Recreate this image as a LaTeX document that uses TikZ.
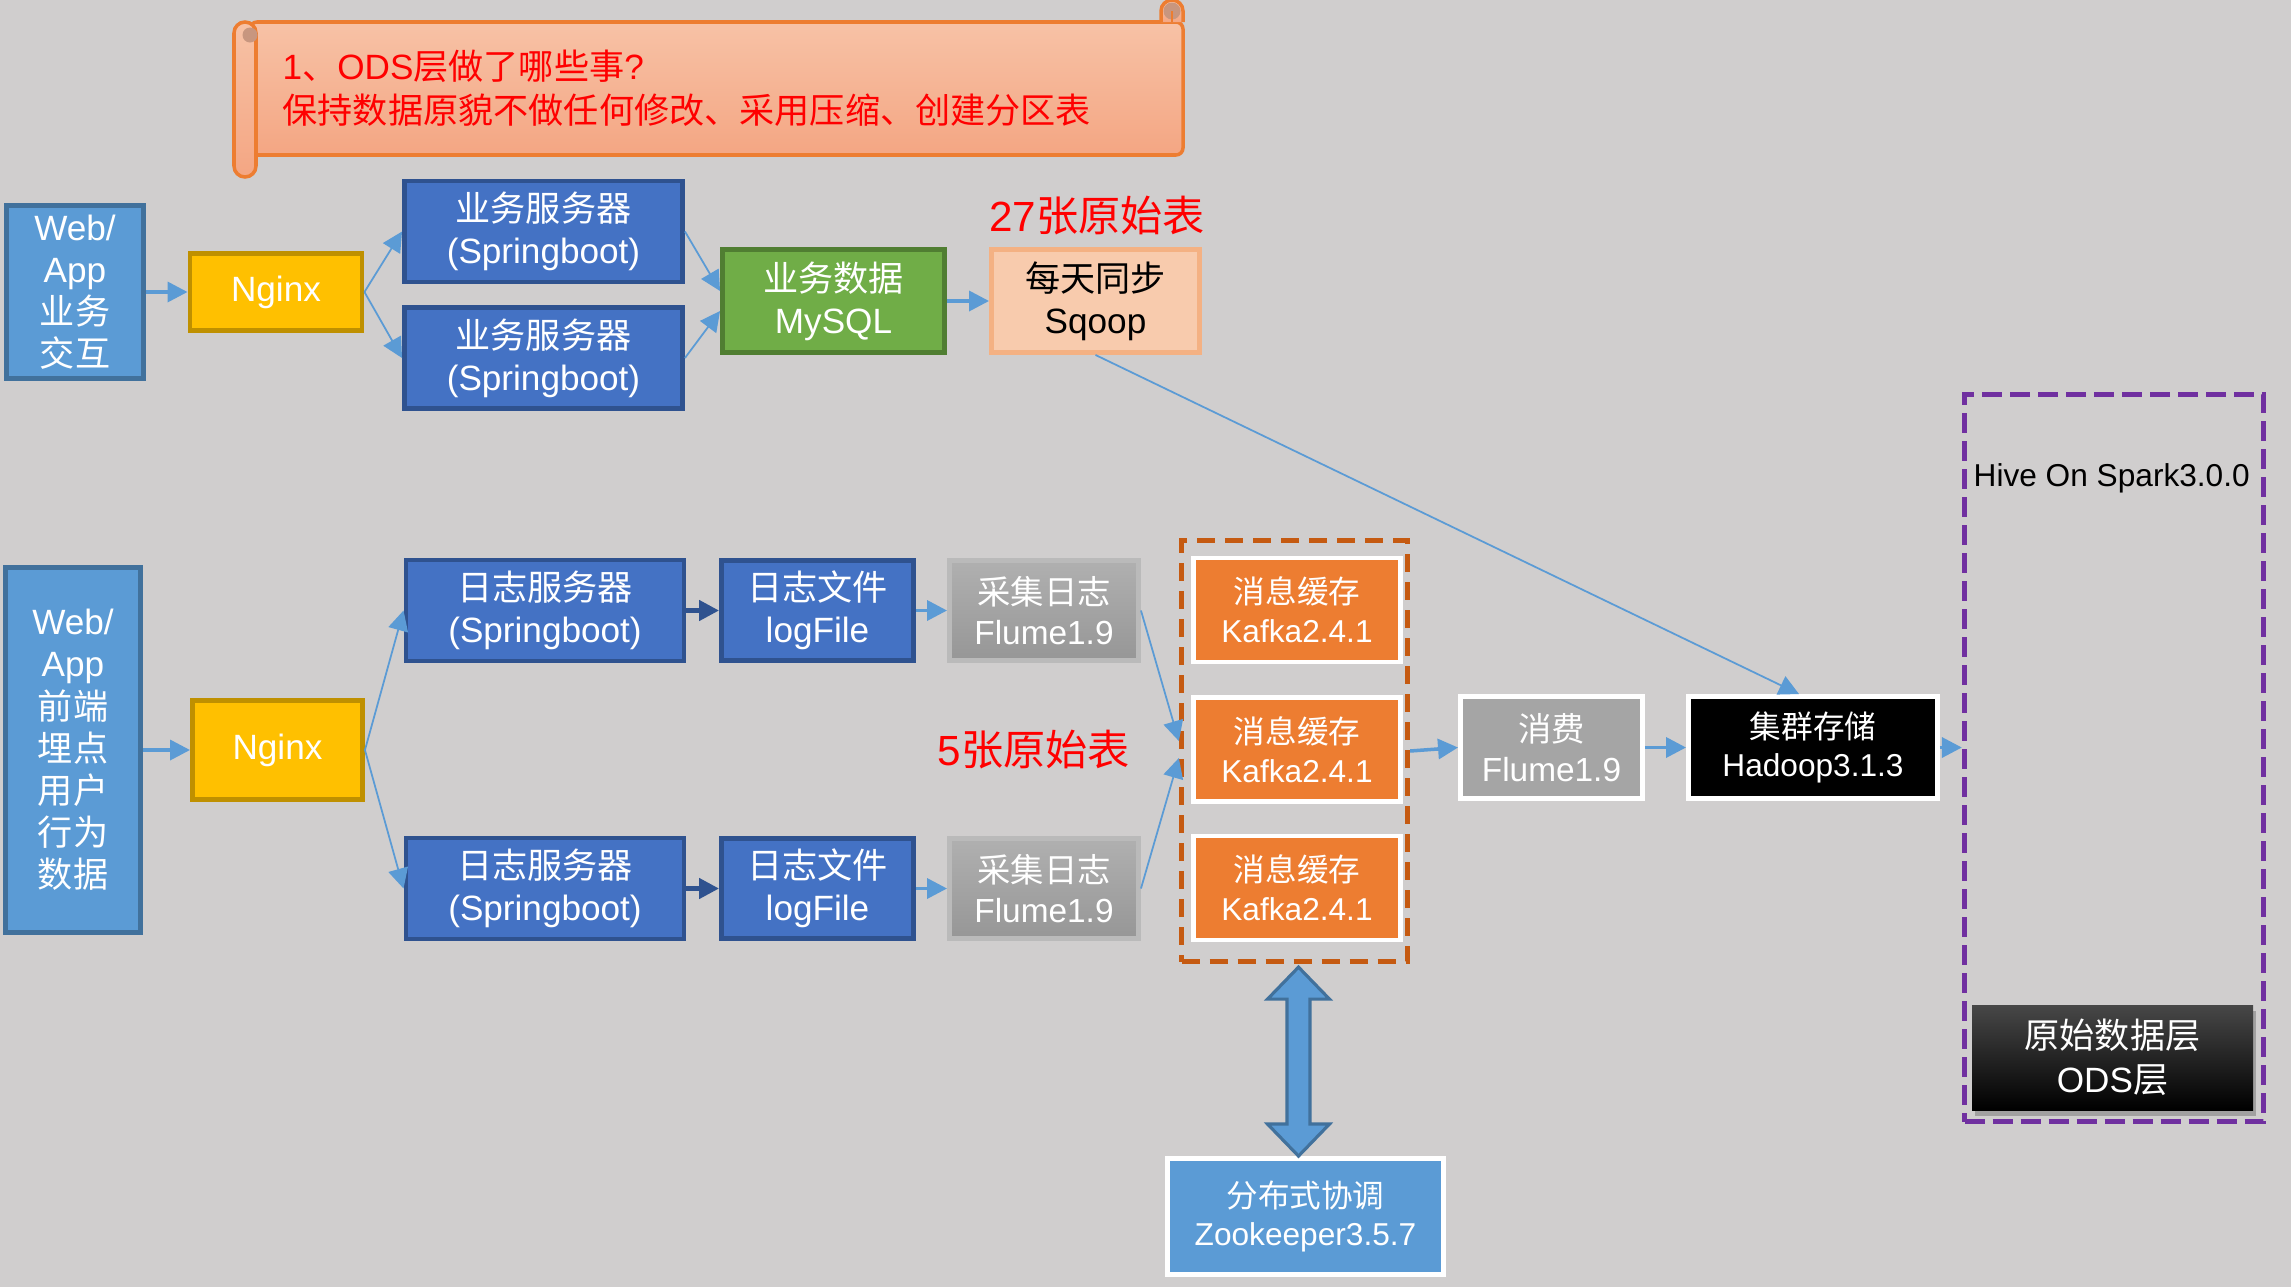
\documentclass[tikz,border=0pt]{standalone}
\usepackage{fontspec}
\setmainfont{Liberation Sans}
\newfontfamily\cjk{Noto Sans CJK SC}
\newcommand{\zhtext}[1]{{\cjk #1}}
\usepackage{tikz}
\usetikzlibrary{
  arrows.meta,
  positioning,
  calc,
  shadows
}
\definecolor{PageGray}{HTML}{D0CECE}
\definecolor{WebBlue}{HTML}{5B9BD5}
\definecolor{WebEdge}{HTML}{41719C}
\definecolor{ServerBlue}{HTML}{4472C4}
\definecolor{ServerEdge}{HTML}{2F528F}
\definecolor{NginxGold}{HTML}{FFC000}
\definecolor{NginxEdge}{HTML}{BF9000}
\definecolor{MysqlGreen}{HTML}{70AD47}
\definecolor{MysqlEdge}{HTML}{507E32}
\definecolor{SqoopPeach}{HTML}{F8CBAD}
\definecolor{SqoopEdge}{HTML}{F4B183}
\definecolor{KafkaOrange}{HTML}{ED7D31}
\definecolor{KafkaDash}{HTML}{C55A11}
\definecolor{HivePurple}{HTML}{7030A0}
\definecolor{FlumeGray}{HTML}{A5A5A5}
\definecolor{ScrollTop}{HTML}{F7C2A6}
\definecolor{ScrollBottom}{HTML}{F4A683}
\definecolor{ScrollEdge}{HTML}{ED7D31}
\definecolor{ScrollCurl}{HTML}{C8967F}
\definecolor{NoteRed}{HTML}{FF0000}

\begin{document}
\begin{tikzpicture}[
  font=\fontsize{10}{12}\selectfont,
  >={Triangle[length=2mm,width=2mm]},
  box/.style={draw,line width=1.4pt,align=center,text=white,inner sep=0pt},
  webbox/.style={box,fill=WebBlue,draw=WebEdge},
  nginxbox/.style={box,fill=NginxGold,draw=NginxEdge,
    minimum width=1.72cm},
  serverbox/.style={box,fill=ServerBlue,draw=ServerEdge,
    minimum width=2.78cm,minimum height=1.01cm},
  mysqlbox/.style={box,fill=MysqlGreen,draw=MysqlEdge,
    minimum width=2.22cm,minimum height=1.03cm},
  sqoopbox/.style={box,fill=SqoopPeach,draw=SqoopEdge,text=black,
    minimum width=2.08cm,minimum height=1.03cm},
  filebox/.style={box,fill=ServerBlue,draw=ServerEdge,
    minimum width=1.92cm,minimum height=1.00cm},
  collectbox/.style={box,top color=black!31,bottom color=black!41,
    draw=black!27,minimum width=1.89cm,minimum height=1.00cm},
  kafkabox/.style={box,fill=KafkaOrange,draw=white,
    font=\fontsize{9}{11}\selectfont,
    minimum width=2.07cm,minimum height=1.04cm},
  consumebox/.style={box,fill=FlumeGray,draw=white,
    font=\fontsize{9.5}{11.5}\selectfont,
    minimum width=1.82cm,minimum height=1.02cm},
  hadoopbox/.style={box,fill=black,draw=white,
    font=\fontsize{9}{11}\selectfont,
    minimum width=2.49cm,minimum height=1.02cm},
  zkbox/.style={box,fill=WebBlue,draw=white,
    font=\fontsize{9}{11}\selectfont,
    minimum width=2.76cm,minimum height=1.16cm},
  odsbox/.style={box,draw=none,top color=black!72,middle color=black,
    bottom color=black,font=\fontsize{10}{12.4}\selectfont,
    minimum width=2.81cm,minimum height=1.05cm,
    drop shadow={shadow xshift=0.03cm,shadow yshift=-0.06cm,
      fill=black!55,opacity=0.5}},
  groupbox/.style={draw=KafkaDash,line width=1.5pt,
    dash pattern=on 0.18cm off 0.1cm,inner sep=0pt},
  hivebox/.style={draw=HivePurple,line width=1.5pt,
    dash pattern=on 0.2cm off 0.08cm,inner sep=0pt},
  tablelabel/.style={text=NoteRed,font=\fontsize{12}{14}\selectfont},
  flow/.style={->,draw=WebBlue,line width=0.5pt},
  heavy/.style={flow,line width=1pt},
  darkflow/.style={->,draw=ServerEdge,line width=1.3pt},
  zklink/.style={fill=WebBlue,draw=WebEdge,line width=0.9pt,line join=miter},
  scrollpart/.style={draw=ScrollEdge,line width=1pt,
    top color=ScrollTop,bottom color=ScrollBottom}
]
\useasboundingbox (0,0) rectangle (22.91,-12.87);
\fill[PageGray] (0,0) rectangle (22.91,-12.87);

% Scroll note at the top.
\draw[scrollpart,rounded corners=2pt] (2.50,-0.22) rectangle (11.83,-1.55);
\draw[scrollpart] (11.61,-0.22) -- (11.61,-0.11)
  arc[start angle=180,end angle=0,radius=0.11] -- (11.83,-0.22);
\fill[ScrollCurl] (11.72,-0.11) circle (0.085);
\draw[ScrollEdge,line width=0.8pt] (11.72,-0.11) -- (11.72,-0.22);
\draw[scrollpart,rounded corners=0.11cm] (2.34,-0.22) rectangle (2.56,-1.77);
\fill[ScrollCurl] (2.50,-0.35) circle (0.075);
\node[text=NoteRed,anchor=west,align=left,inner sep=0pt,
  font=\fontsize{10}{12.4}\selectfont] (note) at (2.82,-0.88)
  {1\zhtext{、}ODS\zhtext{层做了哪些事}?\\
   \zhtext{保持数据原貌不做任何修改、采用压缩、创建分区表}};

% Business data path.
\node[webbox,minimum width=1.37cm,minimum height=1.73cm] (webtop)
  at (0.75,-2.92) {Web/\\App\\\zhtext{业务}\\\zhtext{交互}};
\node[nginxbox,minimum height=0.77cm] (nginxtop) at (2.76,-2.92) {Nginx};
\node[serverbox] (biz1) at (5.435,-2.315)
  {\zhtext{业务服务器}\\(Springboot)};
\node[serverbox] (biz2) at (5.435,-3.58)
  {\zhtext{业务服务器}\\(Springboot)};
\node[mysqlbox] (mysql) at (8.335,-3.01) {\zhtext{业务数据}\\MySQL};
\node[sqoopbox] (sqoop) at (10.955,-3.01) {\zhtext{每天同步}\\Sqoop};
\node[tablelabel] (tables27) at (10.97,-2.16) {27\zhtext{张原始表}};

\draw[heavy] (webtop.east) -- (nginxtop.west);
\draw[flow] (nginxtop.east) -- (biz1.west);
\draw[flow] (nginxtop.east) -- (biz2.west);
\draw[flow] (biz1.east) -- ([yshift=0.1cm]mysql.west);
\draw[flow] (biz2.east) -- ([yshift=-0.1cm]mysql.west);
\draw[heavy] (mysql.east) -- (sqoop.west);

% Log data path.
\node[webbox,minimum width=1.35cm,minimum height=3.65cm] (webbot)
  at (0.73,-7.50)
  {Web/\\App\\\zhtext{前端}\\\zhtext{埋点}\\\zhtext{用户}\\\zhtext{行为}\\\zhtext{数据}};
\node[nginxbox,minimum width=1.70cm,minimum height=0.99cm] (nginxbot)
  at (2.775,-7.50) {Nginx};
\node[serverbox] (log1) at (5.45,-6.105) {\zhtext{日志服务器}\\(Springboot)};
\node[serverbox] (log2) at (5.45,-8.885) {\zhtext{日志服务器}\\(Springboot)};
\node[filebox] (file1) at (8.175,-6.105) {\zhtext{日志文件}\\logFile};
\node[filebox] (file2) at (8.175,-8.885) {\zhtext{日志文件}\\logFile};
\node[collectbox,font=\fontsize{9.5}{11.5}\selectfont] (col1)
  at (10.44,-6.105) {\zhtext{采集日志}\\Flume1.9};
\node[collectbox,font=\fontsize{9.5}{11.5}\selectfont] (col2)
  at (10.44,-8.885) {\zhtext{采集日志}\\Flume1.9};
\node[tablelabel] (tables5) at (10.34,-7.50) {5\zhtext{张原始表}};

% Kafka group and consumers.
\node[groupbox,minimum width=2.26cm,minimum height=4.21cm] (kgroup)
  at (12.945,-7.51) {};
\node[kafkabox] (kafka1) at (12.97,-6.10) {\zhtext{消息缓存}\\Kafka2.4.1};
\node[kafkabox] (kafka2) at (12.97,-7.495) {\zhtext{消息缓存}\\Kafka2.4.1};
\node[kafkabox] (kafka3) at (12.97,-8.88) {\zhtext{消息缓存}\\Kafka2.4.1};
\node[consumebox] (consume) at (15.515,-7.475) {\zhtext{消费}\\Flume1.9};
\node[hadoopbox] (hadoop) at (18.13,-7.475) {\zhtext{集群存储}\\Hadoop3.1.3};

% Hive layer.
\node[hivebox,minimum width=2.99cm,minimum height=7.27cm] (hive)
  at (21.14,-7.58) {};
\node[anchor=west,inner sep=0pt,font=\fontsize{9}{11}\selectfont] (hivelabel)
  at (19.73,-4.78) {Hive On Spark3.0.0};
\node[odsbox] (ods) at (21.125,-10.575) {\zhtext{原始数据层}\\ODS\zhtext{层}};

\node[zkbox] (zk) at (13.055,-12.165) {\zhtext{分布式协调}\\Zookeeper3.5.7};

\draw[heavy] (webbot.east) -- (nginxbot.west);
\draw[flow] (nginxbot.east) -- (log1.west);
\draw[flow] (nginxbot.east) -- (log2.west);
\draw[darkflow] (log1.east) -- (file1.west);
\draw[darkflow] (log2.east) -- (file2.west);
\draw[heavy] (file1.east) -- (col1.west);
\draw[heavy] (file2.east) -- (col2.west);
\draw[flow] (col1.east) -- ([yshift=0.1cm]kgroup.west);
\draw[flow] (col2.east) -- ([yshift=-0.07cm]kgroup.west);
\draw[heavy] (kgroup.east) -- (consume.west);
\draw[heavy] (consume.east) -- (hadoop.west);
\draw[heavy] (hadoop.east) -- (hadoop.east -| hive.west);
\draw[flow] (sqoop.south) -- ([xshift=-0.14cm]hadoop.north);

% Kafka <-> Zookeeper.
\path ([xshift=0.04cm,yshift=-0.03cm]kgroup.south) coordinate (zkA)
  (zkA |- zk.north) coordinate (zkB);
\draw[zklink] (zkA) -- ++(0.31,-0.32) -- ++(-0.195,0)
  -- ($(zkB)+(0.115,0.32)$) -- ++(0.195,0) -- (zkB)
  -- ++(-0.31,0.32) -- ++(0.195,0)
  -- ($(zkA)+(-0.115,-0.32)$) -- ++(-0.195,0) -- cycle;
\end{tikzpicture}
\end{document}
